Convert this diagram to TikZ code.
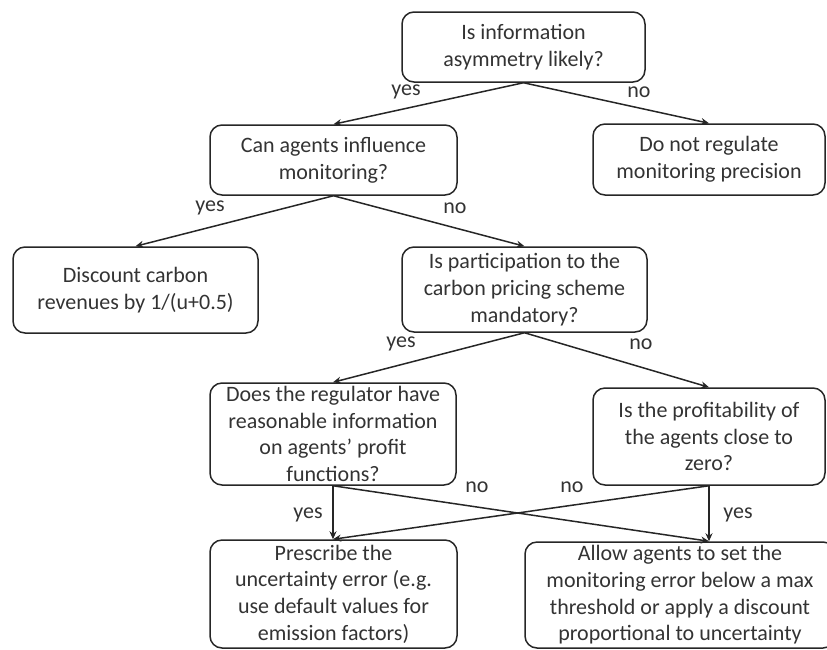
\documentclass[tikz,border=0pt]{standalone}
\usepackage{fontspec}
\setmainfont{Carlito}
\usetikzlibrary{arrows.meta}
\tikzset{
  decision/.style={draw=black!85, rounded corners=12pt, line width=1.5pt, align=center,
    inner sep=0pt, font=\fontsize{22}{26.7}\selectfont, text=black!80},
  answer/.style={inner sep=0pt, font=\fontsize{22}{26}\selectfont, text=black!80},
  branch/.style={draw=black!85, line width=1.5pt, -{Stealth[length=8pt,width=7pt]}},
}

\begin{document}
\begin{tikzpicture}[x=1pt,y=-1pt]
  \useasboundingbox (0,0) rectangle (827,649);
  % questions and outcomes
  \node[decision, minimum width=243, minimum height=70] (asym) at (523.5,47) {Is information\\asymmetry likely?};
  \node[decision, minimum width=232, minimum height=71] (noreg) at (709,159.5) {Do not regulate\\monitoring precision};
  \node[decision, minimum width=247, minimum height=70] (influence) at (333.5,160) {Can agents influence\\monitoring?};
  \node[decision, minimum width=245, minimum height=86] (discount) at (135.5,290) {Discount carbon\\revenues by 1/(u+0.5)};
  \node[decision, minimum width=245, minimum height=85] (mandatory) at (524.5,289.5) {Is participation to the\\carbon pricing scheme\\mandatory?};
  \node[decision, minimum width=246, minimum height=102] (profitinfo) at (333,434) {Does the regulator have\\reasonable information\\on agents' profit\\functions?};
  \node[decision, minimum width=232, minimum height=97] (zeroprofit) at (709,436.5) {Is the profitability of\\the agents close to\\zero?};
  \node[decision, minimum width=247, minimum height=108] (prescribe) at (333.5,594) {Prescribe the\\uncertainty error (e.g.\\use default values for\\emission factors)};
  \node[decision, minimum width=310, minimum height=106] (allow) at (680,595) {Allow agents to set the\\monitoring error below a max\\threshold or apply a discount\\proportional to uncertainty};

  % branches
  \draw[branch] (asym.south) -- (influence.north);
  \draw[branch] (asym.south) -- (noreg.north);
  \draw[branch] (influence.south) -- (discount.north);
  \draw[branch] (influence.south) -- (mandatory.north);
  \draw[branch] (mandatory.south) -- (profitinfo.north);
  \draw[branch] (mandatory.south) -- (zeroprofit.north);
  \draw[branch] (profitinfo.south) -- (profitinfo.south |- prescribe.north);
  \draw[branch] (profitinfo.south) -- (zeroprofit.south |- allow.north);
  \draw[branch] (zeroprofit.south) -- (profitinfo.south |- prescribe.north);
  \draw[branch] (zeroprofit.south) -- (zeroprofit.south |- allow.north);

  % answers
  \node[answer] (asym-yes) at (406,92) {yes};
  \node[answer] (asym-no) at (639,92) {no};
  \node[answer] (influence-yes) at (210,208) {yes};
  \node[answer] (influence-no) at (455,208) {no};
  \node[answer] (mandatory-yes) at (401,344) {yes};
  \node[answer] (mandatory-no) at (641,344) {no};
  \node[answer] (profitinfo-yes) at (308,515) {yes};
  \node[answer] (profitinfo-no) at (477,487) {no};
  \node[answer] (zeroprofit-no) at (572,487) {no};
  \node[answer] (zeroprofit-yes) at (738,515) {yes};
\end{tikzpicture}
\end{document}
